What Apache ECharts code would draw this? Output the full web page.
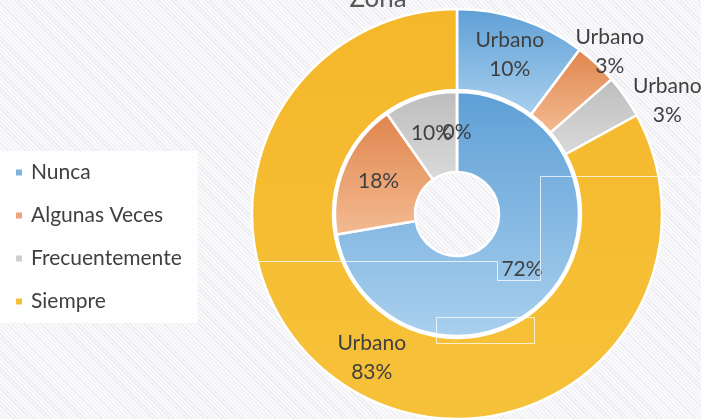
<!DOCTYPE html>
<html><head><meta charset="utf-8">
<script src="https://cdn.jsdelivr.net/npm/echarts@6/dist/echarts.min.js"></script>
<style>
html,body{margin:0;padding:0;}
body{width:701px;height:419px;overflow:hidden;
background:repeating-linear-gradient(45deg,#ebebf0 0px,#ebebf0 1px,#fafafc 1px,#fafafc 3px);}
#c{width:701px;height:419px;}
</style></head>
<body><div id="c"></div>
<script>
const titleText = 'Zona';
const categories = ['Nunca', 'Algunas Veces', 'Frecuentemente', 'Siempre'];
const innerValues = [72.3, 18.0, 9.7, 0];
const outerValues = [10.2, 3.4, 3.4, 83.0];
const outerLabelPrefix = 'Urbano';

function grad(a, b) {
  return new echarts.graphic.LinearGradient(0, 0, 0, 1, [{offset: 0, color: a}, {offset: 1, color: b}]);
}
const colors = [
  grad('#5e9fd6', '#a9d0ee'),
  grad('#e0854d', '#f4bb92'),
  grad('#bdbdbd', '#dadada'),
  grad('#f5b72a', '#f6c23a')
];
const legendColors = ['#7fb3dd', '#e9a47c', '#cfcfcf', '#f3c03a'];

const chart = echarts.init(document.getElementById('c'));
const font = 'Lato';
const labelColor = '#404040';
const innerData = categories.map((n, i) => ({name: n, value: innerValues[i], itemStyle: {color: colors[i]}}));
const outerData = categories.map((n, i) => {
  const d = {name: n, value: outerValues[i], itemStyle: {color: colors[i]}};
  if (i === 1 || i === 2) {
    d.label = {position: 'outside'};
  }
  return d;
});

const lineStyle = {stroke: 'rgba(255,255,255,0.75)', lineWidth: 1, fill: null};
const baseGraphics = [
  {id: 'frame1', type: 'polyline', silent: true, z: 100, shape: {points: [[255, 261.5], [497.5, 261.5], [497.5, 280.5], [540.5, 280.5], [540.5, 176.5], [701, 176.5]]}, style: lineStyle},
  {id: 'frame2', type: 'rect', silent: true, z: 100, shape: {x: 436.5, y: 317.5, width: 98, height: 26}, style: lineStyle}
];

chart.setOption({
  animation: false,
  title: {
    text: titleText, left: 373, top: -19, textAlign: 'center',
    textStyle: {fontFamily: font, fontSize: 26, fontWeight: 'normal', color: '#595959'}
  },
  legend: {
    orient: 'vertical', left: 0, top: 151,
    padding: [11, 16, 11, 14],
    backgroundColor: 'rgba(255,255,255,0.88)',
    itemWidth: 8, itemHeight: 8, itemGap: 22, icon: 'rect',
    data: categories.map((n, i) => ({name: n, itemStyle: {color: legendColors[i]}})),
    textStyle: {fontFamily: font, fontSize: 21, color: labelColor, padding: [0, 0, 0, 3]}
  },
  graphic: baseGraphics,
  series: [
    {
      type: 'pie', name: 'inner', center: [457, 214], radius: [42, 122],
      startAngle: 90, clockwise: true, avoidLabelOverlap: false,
      itemStyle: {borderColor: '#ffffff', borderWidth: 2.5},
      label: {show: true, position: 'inside', fontFamily: font, fontSize: 21, color: labelColor,
        formatter: p => Math.round(p.value) + '%'},
      labelLine: {show: false},
      data: innerData
    },
    {
      type: 'pie', name: 'outer', center: [457, 214], radius: [124, 205],
      startAngle: 90, clockwise: true, avoidLabelOverlap: false,
      itemStyle: {borderColor: '#ffffff', borderWidth: 2.5},
      label: {show: true, position: 'inside', fontFamily: font, fontSize: 21, color: labelColor,
        lineHeight: 29, align: 'center',
        formatter: p => outerLabelPrefix + '\n' + Math.round(p.value) + '%'},
      labelLine: {show: false, length: 6, length2: 0},
      labelLayout: function (p) {
        const cx = p.labelRect.x + p.labelRect.width / 2;
        if (p.dataIndex === 1) return {x: cx - 30, dy: -4, align: 'center'};
        if (p.dataIndex === 2) return {x: cx - 2, dy: 4, align: 'center'};
        return {};
      },
      data: outerData
    }
  ]
});

// ECharts hides the label of a zero-value sector; draw it at the sector's own layout position.
const innerSeriesData = chart.getModel().getSeriesByIndex(0).getData();
const zeroLabels = [];
innerValues.forEach((v, i) => {
  if (v !== 0) return;
  const lay = innerSeriesData.getItemLayout(i);
  if (!lay) return;
  const ang = (lay.startAngle + lay.endAngle) / 2;
  const rr = (lay.r0 + lay.r) / 2;
  zeroLabels.push({
    id: 'zero' + i, type: 'text', silent: true, z: 50,
    x: lay.cx + rr * Math.cos(ang), y: lay.cy + rr * Math.sin(ang),
    style: {text: Math.round(v) + '%', fontFamily: font, fontSize: 21, fill: labelColor,
      align: 'center', verticalAlign: 'middle'}
  });
});
chart.setOption({graphic: baseGraphics.concat(zeroLabels)});
</script></body></html>
